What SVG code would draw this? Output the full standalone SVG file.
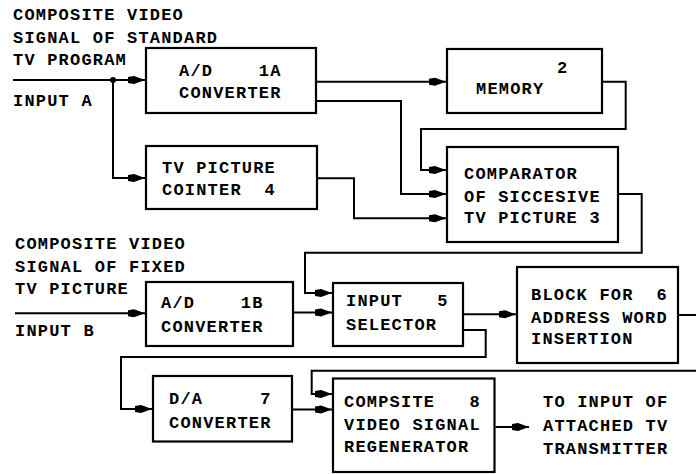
<svg xmlns="http://www.w3.org/2000/svg" width="696" height="474" viewBox="0 0 696 474">
<style>
text{font-family:"Liberation Mono","Courier New",monospace;font-size:17px;letter-spacing:1.2px;fill:#000;white-space:pre;font-weight:bold}
.box{fill:#fff;stroke:#000;stroke-width:2.2}
.ln{fill:none;stroke:#000;stroke-width:2}
.ar{marker-end:url(#ah)}
</style>
<defs>
<marker id="ah" viewBox="-18 -5 18 10" refX="0" refY="0" markerWidth="18" markerHeight="10" orient="auto" markerUnits="userSpaceOnUse">
<path d="M0,0 L-11,-4 L-17,-3 L-17,3 L-11,4 Z" fill="#000"/>
</marker>
</defs>
<rect width="696" height="474" fill="#fff"/>
<g id="labels">
<text x="13" y="19.5" xml:space="preserve">COMPOSITE VIDEO</text>
<text x="13" y="42.5" xml:space="preserve">SIGNAL OF STANDARD</text>
<text x="13" y="64.5" xml:space="preserve">TV PROGRAM</text>
<text x="13" y="105.5" xml:space="preserve">INPUT A</text>
<text x="15" y="249.3" xml:space="preserve">COMPOSITE VIDEO</text>
<text x="15" y="271.7" xml:space="preserve">SIGNAL OF FIXED</text>
<text x="15" y="294" xml:space="preserve">TV PICTURE</text>
<text x="15" y="336" xml:space="preserve">INPUT B</text>
<text x="543" y="406.7" xml:space="preserve">TO INPUT OF</text>
<text x="543" y="431" xml:space="preserve">ATTACHED TV</text>
<text x="543" y="454" xml:space="preserve">TRANSMITTER</text>
</g>
<g id="n1a">
<rect class="box" x="146" y="48" width="170" height="65"/>
<text x="179" y="76" xml:space="preserve">A/D    1A</text>
<text x="179" y="97.7" xml:space="preserve">CONVERTER</text>
</g>
<g id="n2">
<rect class="box" x="447" y="49" width="155" height="64"/>
<text x="557" y="72.7" xml:space="preserve">2</text>
<text x="476" y="94.3" xml:space="preserve">MEMORY</text>
</g>
<g id="n3">
<rect class="box" x="447" y="147" width="171" height="95"/>
<text x="464" y="179" xml:space="preserve">COMPARATOR</text>
<text x="464" y="201.7" xml:space="preserve">OF SICCESIVE</text>
<text x="464" y="223.3" xml:space="preserve">TV PICTURE 3</text>
</g>
<g id="n4">
<rect class="box" x="146" y="146" width="171" height="63"/>
<text x="162" y="173.3" xml:space="preserve">TV PICTURE</text>
<text x="162" y="195" xml:space="preserve">COINTER  4</text>
</g>
<g id="n1b">
<rect class="box" x="146" y="282" width="147" height="64"/>
<text x="161" y="308.3" xml:space="preserve">A/D    1B</text>
<text x="161" y="332.3" xml:space="preserve">CONVERTER</text>
</g>
<g id="n5">
<rect class="box" x="333" y="283" width="130" height="63"/>
<text x="346" y="306" xml:space="preserve">INPUT   5</text>
<text x="346" y="330" xml:space="preserve">SELECTOR</text>
</g>
<g id="n6">
<rect class="box" x="517" y="267" width="161" height="96"/>
<text x="531" y="300" xml:space="preserve">BLOCK FOR  6</text>
<text x="531" y="322.7" xml:space="preserve">ADDRESS WORD</text>
<text x="531" y="344.3" xml:space="preserve">INSERTION</text>
</g>
<g id="n7">
<rect class="box" x="153" y="376" width="139" height="65.5"/>
<text x="169" y="404" xml:space="preserve">D/A     7</text>
<text x="169" y="427.7" xml:space="preserve">CONVERTER</text>
</g>
<g id="n8">
<rect class="box" x="333" y="378.5" width="161.5" height="93.5"/>
<text x="344" y="406.7" xml:space="preserve">COMPSITE   8</text>
<text x="344" y="430" xml:space="preserve">VIDEO SIGNAL</text>
<text x="344" y="451.7" xml:space="preserve">REGENERATOR</text>
</g>
<g id="connectors">
<path class="ln ar" d="M13,80 H145"/>
<circle cx="113" cy="80" r="3"/>
<path class="ln ar" d="M113,80 V178 H145"/>
<path class="ln ar" d="M317,81.7 H446"/>
<path class="ln ar" d="M317,101 H401 V194 H446"/>
<path class="ln ar" d="M603,81.7 H625.7 V129 H421 V170 H446"/>
<path class="ln ar" d="M318,178.3 H354 V218.3 H446"/>
<path class="ln ar" d="M619,194 H641.7 V252.7 H305 V293 H332"/>
<path class="ln ar" d="M15,313.3 H145"/>
<path class="ln ar" d="M294,312.5 H332"/>
<path class="ln ar" d="M464,314.3 H516"/>
<path class="ln" d="M679,315 H696"/>
<path class="ln ar" d="M464,330 H485.7 V357 H121 V409 H152"/>
<path class="ln ar" d="M696,370.7 H311.7 V394 H332"/>
<path class="ln ar" d="M293,409.5 H332"/>
<path class="ln ar" d="M495.5,427 H529"/>
</g>
</svg>
